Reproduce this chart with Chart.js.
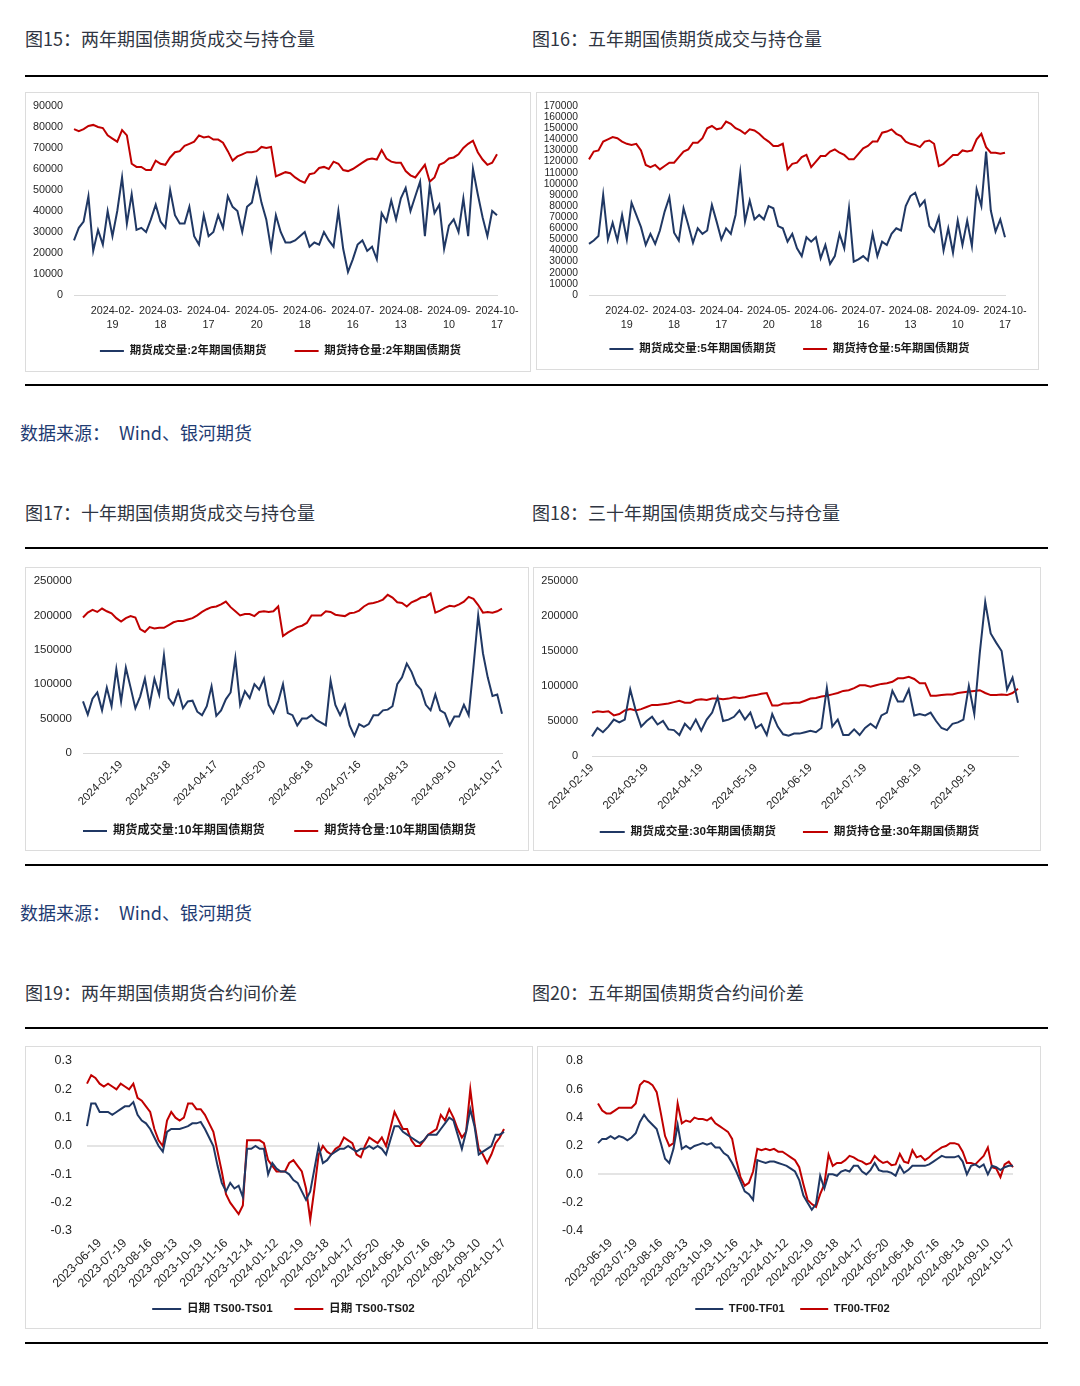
<!DOCTYPE html>
<html><head><meta charset="utf-8">
<script src="https://cdn.jsdelivr.net/npm/chart.js@4.4.1/dist/chart.umd.min.js"></script>
<style>
html,body{margin:0;padding:0;background:#fff;}
body{width:1080px;height:1386px;position:relative;overflow:hidden;font-family:"Noto Sans CJK SC","Noto Sans",sans-serif;}
.title{position:absolute;font-size:18px;line-height:18px;color:#2f3542;white-space:nowrap;}
.rule{position:absolute;left:25px;width:1023px;height:2px;background:#000;}
.src{position:absolute;font-size:18px;line-height:18px;color:#1f3c73;white-space:nowrap;}
.panel{position:absolute;border:1px solid #dcdcdc;box-sizing:border-box;background:#fff;}
.panel canvas{position:absolute;left:0;top:0;}
</style></head>
<body>
<div class="title" style="left:25px;top:29px">图15：两年期国债期货成交与持仓量</div>
<div class="title" style="left:532px;top:29px">图16：五年期国债期货成交与持仓量</div>
<div class="rule" style="top:75px"></div>
<div class="panel" style="left:25px;top:92px;width:506px;height:280px"><canvas id="c1" width="504" height="278"></canvas></div>
<div class="panel" style="left:536px;top:92px;width:503px;height:278px"><canvas id="c2" width="501" height="276"></canvas></div>
<div class="rule" style="top:384px"></div>
<div class="src" style="left:20px;top:423px">数据来源：</div><div class="src" style="left:119px;top:423px">Wind、银河期货</div>

<div class="title" style="left:25px;top:503px">图17：十年期国债期货成交与持仓量</div>
<div class="title" style="left:532px;top:503px">图18：三十年期国债期货成交与持仓量</div>
<div class="rule" style="top:547px"></div>
<div class="panel" style="left:25px;top:567px;width:504px;height:284px"><canvas id="c3" width="502" height="282"></canvas></div>
<div class="panel" style="left:533px;top:567px;width:508px;height:284px"><canvas id="c4" width="506" height="282"></canvas></div>
<div class="rule" style="top:864px"></div>
<div class="src" style="left:20px;top:903px">数据来源：</div><div class="src" style="left:119px;top:903px">Wind、银河期货</div>

<div class="title" style="left:25px;top:983px">图19：两年期国债期货合约间价差</div>
<div class="title" style="left:532px;top:983px">图20：五年期国债期货合约间价差</div>
<div class="rule" style="top:1027px"></div>
<div class="panel" style="left:25px;top:1046px;width:508px;height:283px"><canvas id="c5" width="506" height="281"></canvas></div>
<div class="panel" style="left:537px;top:1046px;width:504px;height:283px"><canvas id="c6" width="502" height="281"></canvas></div>
<div class="rule" style="top:1342px"></div>

<script>
// ---------------- DATA ----------------
// Figure 15: 2-year treasury futures (sampled every ~2 trading days)
const ticks2y = ['2024-02-19','2024-03-18','2024-04-17','2024-05-20','2024-06-18','2024-07-16','2024-08-13','2024-09-10','2024-10-17'];
const vol2y = [26000,32000,35000,47000,21000,31000,24000,40000,28000,40000,
  56000,34000,48000,31000,32000,30000,36000,43000,35000,32000,
  50000,38000,34000,34000,42000,28000,24000,38000,28000,30000,
  38000,32000,47000,42000,40000,30000,42000,44000,55000,44000,
  36000,22000,38000,30000,25000,25000,26000,28000,30000,23000,
  25000,24000,30000,26000,23000,40000,22000,11000,17000,24000,
  26000,21000,23000,17000,39000,35000,45000,36000,46000,51000,
  40000,47000,54000,28000,52000,39000,43000,22000,33000,36000,
  30000,46000,28000,60000,48000,37000,28000,40000,38000];
const oi2y = [79000,78000,79000,80500,81000,80000,79500,76000,74500,73000,
  78500,76000,62500,61000,61000,59500,59500,64000,62500,62000,
  65500,68000,68500,71000,72000,73000,76000,75000,75500,74000,
  74000,72500,68500,64000,66000,67000,68000,68000,68500,70500,
  70000,70500,56500,57500,58500,58000,56000,54500,53500,57500,
  58000,60500,61000,60000,63500,62500,59500,59000,60000,61500,
  63000,64500,65000,64500,69000,65000,63500,63000,63000,59000,
  57000,56000,59000,62000,54000,56000,62000,63000,65000,65500,
  67000,70000,72000,73500,68000,64500,62000,63000,67000];
const yTicks2y = [0,10000,20000,30000,40000,50000,60000,70000,80000,90000];

// Figure 16: 5-year
const ticks5y = ticks2y;
const vol5y = [46000,49000,53000,90000,50000,65000,49000,72000,50000,83000,
  72000,61000,45000,55000,46000,58000,75000,88000,56000,49000,
  78000,63000,47000,60000,55000,58000,81000,66000,50000,60000,
  55000,72000,110000,66000,85000,68000,72000,68000,80000,78000,
  62000,60000,48000,55000,42000,35000,52000,48000,52000,33000,
  45000,28000,35000,55000,42000,78000,30000,32000,35000,31000,
  55000,35000,48000,45000,55000,60000,58000,80000,89000,92000,
  80000,85000,62000,57000,70000,40000,60000,38000,67000,45000,
  67000,44000,95000,80000,129000,76000,57000,68000,52000];
const oi5y = [122000,129000,130000,138000,140000,142000,141000,138000,136000,135000,
  136000,130000,117000,115000,117000,113000,116000,119000,119000,124000,
  129000,131000,137000,137000,141000,150000,152000,149000,150000,156000,
  154000,150000,148000,145000,149000,148000,145000,141000,138000,134000,
  134000,136000,113000,118000,119000,124000,126000,115000,120000,125000,
  125000,129000,131000,128000,126000,122000,122000,127000,132000,134000,
  138000,138000,146000,147000,149000,145000,143000,138000,136000,135000,
  133000,138000,139000,136000,116000,118000,122000,126000,126000,130000,
  129000,130000,140000,145000,133000,128000,128000,127000,128000];
const yTicks5y = [0,10000,20000,30000,40000,50000,60000,70000,80000,90000,100000,110000,120000,130000,140000,150000,160000,170000];

// Figure 17: 10-year
const ticks10y = ticks2y;
const vol10y = [75000,56000,79000,88000,62000,95000,68000,122000,75000,124000,
  95000,65000,82000,108000,70000,108000,85000,142000,80000,70000,
  90000,65000,75000,76000,60000,55000,68000,97000,54000,62000,
  78000,88000,138000,70000,90000,80000,100000,92000,108000,70000,
  58000,75000,100000,58000,55000,40000,50000,50000,55000,48000,
  44000,40000,105000,70000,55000,70000,40000,25000,42000,38000,
  42000,55000,55000,62000,63000,68000,100000,110000,130000,118000,
  100000,92000,70000,62000,85000,62000,58000,40000,53000,53000,
  70000,55000,125000,200000,145000,110000,83000,85000,57000];
const oi10y = [197000,204000,208000,205000,210000,206000,203000,196000,191000,196000,
  199000,197000,180000,176000,183000,181000,182000,182000,186000,190000,
  192000,192000,194000,196000,200000,205000,209000,212000,213000,216000,
  220000,212000,206000,200000,202000,202000,199000,205000,206000,205000,
  206000,213000,170000,175000,179000,183000,185000,189000,200000,200000,
  200000,206000,205000,201000,200000,199000,203000,204000,207000,213000,
  217000,218000,220000,223000,230000,226000,219000,218000,213000,219000,
  222000,226000,227000,232000,204000,207000,211000,214000,213000,216000,
  220000,227000,224000,215000,204000,205000,204000,206000,210000];
const yTicks10y = [0,50000,100000,150000,200000,250000];

// Figure 18: 30-year
const ticks30y = ['2024-02-19','2024-03-19','2024-04-19','2024-05-19','2024-06-19','2024-07-19','2024-08-19','2024-09-19'];
const vol30y = [28000,40000,34000,42000,52000,48000,52000,95000,65000,42000,
  50000,56000,45000,50000,38000,37000,30000,46000,38000,52000,
  36000,52000,62000,84000,50000,52000,56000,65000,52000,62000,
  40000,45000,30000,60000,42000,31000,29000,32000,32000,34000,
  36000,34000,40000,97000,42000,52000,30000,30000,38000,30000,
  40000,46000,40000,58000,62000,93000,78000,78000,95000,58000,
  60000,58000,62000,50000,40000,37000,46000,48000,52000,100000,
  60000,147000,220000,175000,162000,150000,95000,112000,76000];
const oi30y = [62000,64000,63000,64000,58000,60000,65000,67000,65000,67000,
  70000,73000,73000,74000,75000,77000,79000,76000,76000,80000,
  81000,80000,82000,82000,81000,82000,84000,83000,84000,86000,
  87000,89000,90000,72000,72000,75000,75000,76000,76000,79000,
  82000,83000,85000,86000,88000,90000,93000,94000,97000,101000,
  101000,99000,101000,103000,104000,106000,111000,111000,113000,110000,
  104000,104000,86000,86000,87000,88000,88000,90000,91000,92000,
  93000,94000,90000,87000,87000,88000,87000,90000,96000];
const yTicks30y = [0,50000,100000,150000,200000,250000];

// Figure 19 / 20: calendar spreads
const ticksSpread = ['2023-06-19','2023-07-19','2023-08-16','2023-09-13','2023-10-19','2023-11-16','2023-12-14','2024-01-12','2024-02-19','2024-03-18','2024-04-17','2024-05-20','2024-06-18','2024-07-16','2024-08-13','2024-09-10','2024-10-17'];
const ts01 = [0.07,0.15,0.15,0.12,0.12,0.12,0.11,0.12,0.13,0.14,
  0.14,0.155,0.11,0.09,0.08,0.06,0.03,0.00,-0.02,0.05,
  0.06,0.06,0.06,0.065,0.07,0.08,0.08,0.085,0.06,0.03,
  0.00,-0.07,-0.13,-0.16,-0.13,-0.15,-0.14,-0.18,-0.01,-0.01,
  0.00,-0.01,-0.01,-0.10,-0.06,-0.08,-0.09,-0.09,-0.10,-0.12,
  -0.13,-0.16,-0.19,-0.16,-0.08,0.00,-0.06,-0.05,-0.03,-0.02,
  -0.01,-0.01,0.00,-0.01,-0.02,-0.01,-0.01,0.00,-0.01,0.00,
  -0.01,-0.03,0.02,0.07,0.07,0.05,0.04,0.03,0.02,0.01,
  0.02,0.04,0.04,0.04,0.06,0.08,0.10,0.09,0.04,-0.01,
  0.05,0.13,0.07,-0.03,-0.02,-0.01,0.00,0.04,0.04,0.05];
const ts02 = [0.22,0.25,0.24,0.22,0.21,0.22,0.21,0.20,0.22,0.21,
  0.20,0.22,0.17,0.16,0.14,0.12,0.06,0.02,0.00,0.09,
  0.12,0.10,0.09,0.10,0.15,0.15,0.13,0.13,0.11,0.08,
  0.05,-0.02,-0.09,-0.17,-0.20,-0.22,-0.24,-0.21,0.02,0.02,
  0.02,0.02,0.01,-0.05,-0.07,-0.09,-0.09,-0.09,-0.06,-0.05,
  -0.07,-0.09,-0.15,-0.26,-0.15,-0.03,0.00,-0.02,-0.03,-0.01,
  0.00,0.03,0.02,0.01,-0.03,-0.04,0.00,0.03,0.02,0.01,
  0.03,0.00,0.06,0.12,0.09,0.06,0.06,0.02,0.00,0.00,
  0.02,0.04,0.05,0.06,0.11,0.09,0.13,0.10,0.06,0.03,
  0.05,0.20,0.08,-0.01,-0.03,-0.06,-0.03,0.01,0.03,0.06];
const yTicksTS = [-0.3,-0.2,-0.1,0,0.1,0.2,0.3];
const tf01 = [0.22,0.25,0.25,0.27,0.25,0.27,0.26,0.24,0.26,0.29,
  0.37,0.42,0.38,0.35,0.32,0.22,0.11,0.08,0.18,0.35,
  0.18,0.20,0.18,0.20,0.21,0.22,0.21,0.22,0.19,0.19,
  0.15,0.13,0.08,0.02,-0.05,-0.12,-0.14,-0.18,0.10,0.09,
  0.08,0.09,0.09,0.08,0.07,0.06,0.04,0.02,-0.04,-0.15,
  -0.20,-0.25,-0.21,-0.01,-0.10,0.00,0.00,-0.01,0.02,0.03,
  0.02,0.06,0.06,0.02,0.00,0.03,0.08,0.03,0.02,0.02,
  0.01,-0.01,0.06,0.01,0.03,0.06,0.06,0.06,0.06,0.07,
  0.09,0.11,0.13,0.12,0.12,0.12,0.13,0.09,0.00,0.06,
  0.07,0.05,0.07,0.00,0.06,0.05,0.03,0.05,0.06,0.06];
const tf02 = [0.50,0.45,0.43,0.43,0.45,0.47,0.47,0.47,0.47,0.50,
  0.63,0.66,0.65,0.63,0.58,0.43,0.27,0.20,0.22,0.50,
  0.36,0.38,0.37,0.40,0.39,0.39,0.38,0.40,0.36,0.34,
  0.32,0.30,0.25,0.10,-0.02,-0.08,-0.06,0.02,0.18,0.17,
  0.18,0.17,0.18,0.16,0.16,0.14,0.12,0.10,0.05,-0.07,
  -0.18,-0.21,-0.23,-0.14,-0.07,0.14,0.06,0.08,0.08,0.10,
  0.13,0.12,0.10,0.09,0.07,0.08,0.13,0.10,0.08,0.09,
  0.065,0.07,0.145,0.09,0.08,0.17,0.12,0.13,0.10,0.12,
  0.15,0.17,0.19,0.20,0.22,0.22,0.21,0.16,0.08,0.08,
  0.07,0.10,0.13,0.19,0.05,0.04,-0.02,0.07,0.09,0.05];
const yTicksTF = [-0.4,-0.2,0,0.2,0.4,0.6,0.8];

// ---------------- RENDERING ----------------
const NAVY = '#203864';
const RED = '#c00000';
const TICKFONT = '"Liberation Sans", Arial, "Noto Sans CJK SC", sans-serif';
const LEGFONT = '"Liberation Sans", Arial, "Noto Sans CJK SC", sans-serif';

function buildCategories(count, tickLabels, first, step) {
  const out = [];
  for (let i = 0; i < count; i++) {
    const k = (i - first) / step;
    out.push(i >= first && Number.isInteger(k) && k < tickLabels.length ? tickLabels[k] : '');
  }
  return out;
}

function makeChart(id, c) {
  const labels = buildCategories(c.series[0].data.length, c.tickLabels, c.first, c.step);
  return new Chart(document.getElementById(id), {
    type: 'line',
    data: {
      labels: labels,
      datasets: c.series.map(s => ({
        label: s.name, data: s.data, borderColor: s.color, backgroundColor: s.color,
        borderWidth: c.lw, pointRadius: 0, pointHoverRadius: 0, tension: 0, fill: false,
        xAxisID: 'x', yAxisID: 'y'
      }))
    },
    options: {
      responsive: false, animation: false, devicePixelRatio: 1,
      events: [],
      layout: { padding: { left: c.L, right: 0, top: c.top, bottom: c.pb } },
      plugins: {
        tooltip: { enabled: false },
        legend: {
          position: 'bottom', align: 'center',
          labels: {
            boxWidth: c.lgBox, boxHeight: 2, padding: c.lgPad, color: '#1a1a1a',
            font: { family: LEGFONT, size: c.lgFont, weight: 'bold' },
            generateLabels: ch => Chart.defaults.plugins.legend.labels.generateLabels(ch).map(l => Object.assign(l, {
              lineWidth: 0, fillStyle: l.strokeStyle,
              text: l.datasetIndex === 0 ? l.text + ' '.repeat(c.gap) : l.text
            }))
          }
        }
      },
      scales: {
        x: {
          type: 'category', offset: false,
          grid: { display: false, drawTicks: false },
          border: { display: c.xBorder, color: '#d9d9d9', width: 1 },
          ticks: {
            autoSkip: false, maxRotation: c.rot, minRotation: c.rot, padding: c.xPad,
            color: '#262626', font: { family: TICKFONT, size: c.xFont, lineHeight: c.xLH },
            callback: function (v) {
              const l = this.getLabelForValue(v);
              if (!l) return null;
              return c.twoLine ? [l.slice(0, 8), l.slice(8)] : l;
            }
          },
          afterFit: s => { s.height = c.xH; s.paddingLeft = 0; s.paddingRight = 0; }
        },
        y: {
          type: 'linear', min: c.yMin, max: c.yMax,
          afterBuildTicks: s => { s.ticks = c.yTicks.map(v => ({ value: v })); },
          grid: {
            display: c.zeroLine, drawTicks: false, lineWidth: 2,
            color: ctx => (ctx.tick && Math.abs(ctx.tick.value) < 1e-9) ? '#e4e4e4' : 'rgba(0,0,0,0)'
          },
          border: { display: false },
          ticks: {
            autoSkip: false, padding: c.yPad, color: '#262626',
            font: { family: TICKFONT, size: c.yFont, lineHeight: 1 },
            callback: v => c.yFmt(v)
          },
          afterFit: s => { s.width = c.yW; s.paddingTop = 0; s.paddingBottom = 0; }
        },
        yR: {
          type: 'linear', position: 'right', display: true,
          grid: { display: false, drawTicks: false }, border: { display: false },
          ticks: { display: false },
          afterFit: s => { s.width = c.rightW; s.paddingTop = 0; s.paddingBottom = 0; }
        }
      }
    }
  });
}

const intFmt = v => String(Math.round(v));
const decFmt = v => (Math.abs(v) < 1e-9 ? 0 : v).toFixed(1);

makeChart('c1', {
  series: [{ name: '期货成交量:2年期国债期货', data: vol2y, color: NAVY }, { name: '期货持仓量:2年期国债期货', data: oi2y, color: RED }],
  tickLabels: ticks2y, first: 8, step: 10, twoLine: true, rot: 0,
  yMin: 0, yMax: 90000, yTicks: yTicks2y, yFmt: intFmt, yFont: 10.8, yPad: 11, L: 5, yW: 43, rightW: 33,
  xFont: 10.8, xLH: 1.3, xPad: 9, xH: 38, xBorder: true, zeroLine: false,
  top: 13, pb: 4.25, lgFont: 11.5, lgPad: 12.25, gap: 5, lgBox: 24, lw: 2
});
makeChart('c2', {
  series: [{ name: '期货成交量:5年期国债期货', data: vol5y, color: NAVY }, { name: '期货持仓量:5年期国债期货', data: oi5y, color: RED }],
  tickLabels: ticks5y, first: 8, step: 10, twoLine: true, rot: 0,
  yMin: 0, yMax: 170000, yTicks: yTicks5y, yFmt: intFmt, yFont: 10.3, yPad: 11, L: 4, yW: 48, rightW: 33,
  xFont: 10.8, xLH: 1.3, xPad: 9, xH: 37, xBorder: true, zeroLine: false,
  top: 13, pb: 4.25, lgFont: 11.5, lgPad: 11.25, gap: 5, lgBox: 24, lw: 2
});
makeChart('c3', {
  series: [{ name: '期货成交量:10年期国债期货', data: vol10y, color: NAVY }, { name: '期货持仓量:10年期国债期货', data: oi10y, color: RED }],
  tickLabels: ticks10y, first: 8, step: 10, twoLine: false, rot: 45,
  yMin: 0, yMax: 250000, yTicks: yTicks10y, yFmt: intFmt, yFont: 11.5, yPad: 11, L: 5, yW: 52, rightW: 26,
  xFont: 11.3, xLH: 1.2, xPad: 5, xH: 56, xBorder: true, zeroLine: false,
  top: 13, pb: 2.9, lgFont: 12.2, lgPad: 15.9, gap: 4, lgBox: 24, lw: 2
});
makeChart('c4', {
  series: [{ name: '期货成交量:30年期国债期货', data: vol30y, color: NAVY }, { name: '期货持仓量:30年期国债期货', data: oi30y, color: RED }],
  tickLabels: ticks30y, first: 0, step: 10, twoLine: false, rot: 45,
  yMin: 0, yMax: 250000, yTicks: yTicks30y, yFmt: intFmt, yFont: 11, yPad: 14, L: 5, yW: 53, rightW: 22,
  xFont: 11.5, xLH: 1.2, xPad: 5, xH: 53, xBorder: true, zeroLine: false,
  top: 13, pb: 2.15, lgFont: 11.7, lgPad: 17.15, gap: 3, lgBox: 25, lw: 2
});
makeChart('c5', {
  series: [{ name: '日期 TS00-TS01', data: ts01, color: NAVY }, { name: '日期 TS00-TS02', data: ts02, color: RED }],
  tickLabels: ticksSpread, first: 3, step: 6, twoLine: false, rot: 45,
  yMin: -0.3, yMax: 0.3, yTicks: yTicksTS, yFmt: decFmt, yFont: 12.5, yPad: 15, L: 9, yW: 52, rightW: 28,
  xFont: 12.3, xLH: 1.2, xPad: 5, xH: 57, xBorder: false, zeroLine: true,
  top: 14, pb: 3.2, lgFont: 11.6, lgPad: 15.2, gap: 2, lgBox: 29, lw: 2
});
makeChart('c6', {
  series: [{ name: 'TF00-TF01', data: tf01, color: NAVY }, { name: 'TF00-TF02', data: tf02, color: RED }],
  tickLabels: ticksSpread, first: 3, step: 6, twoLine: false, rot: 45,
  yMin: -0.4, yMax: 0.8, yTicks: yTicksTF, yFmt: decFmt, yFont: 12.2, yPad: 15, L: 7, yW: 53, rightW: 27,
  xFont: 12, xLH: 1.2, xPad: 5, xH: 57, xBorder: false, zeroLine: true,
  top: 14, pb: 3.4, lgFont: 11.2, lgPad: 15.4, gap: 0, lgBox: 28, lw: 2
});
</script>
</body></html>
